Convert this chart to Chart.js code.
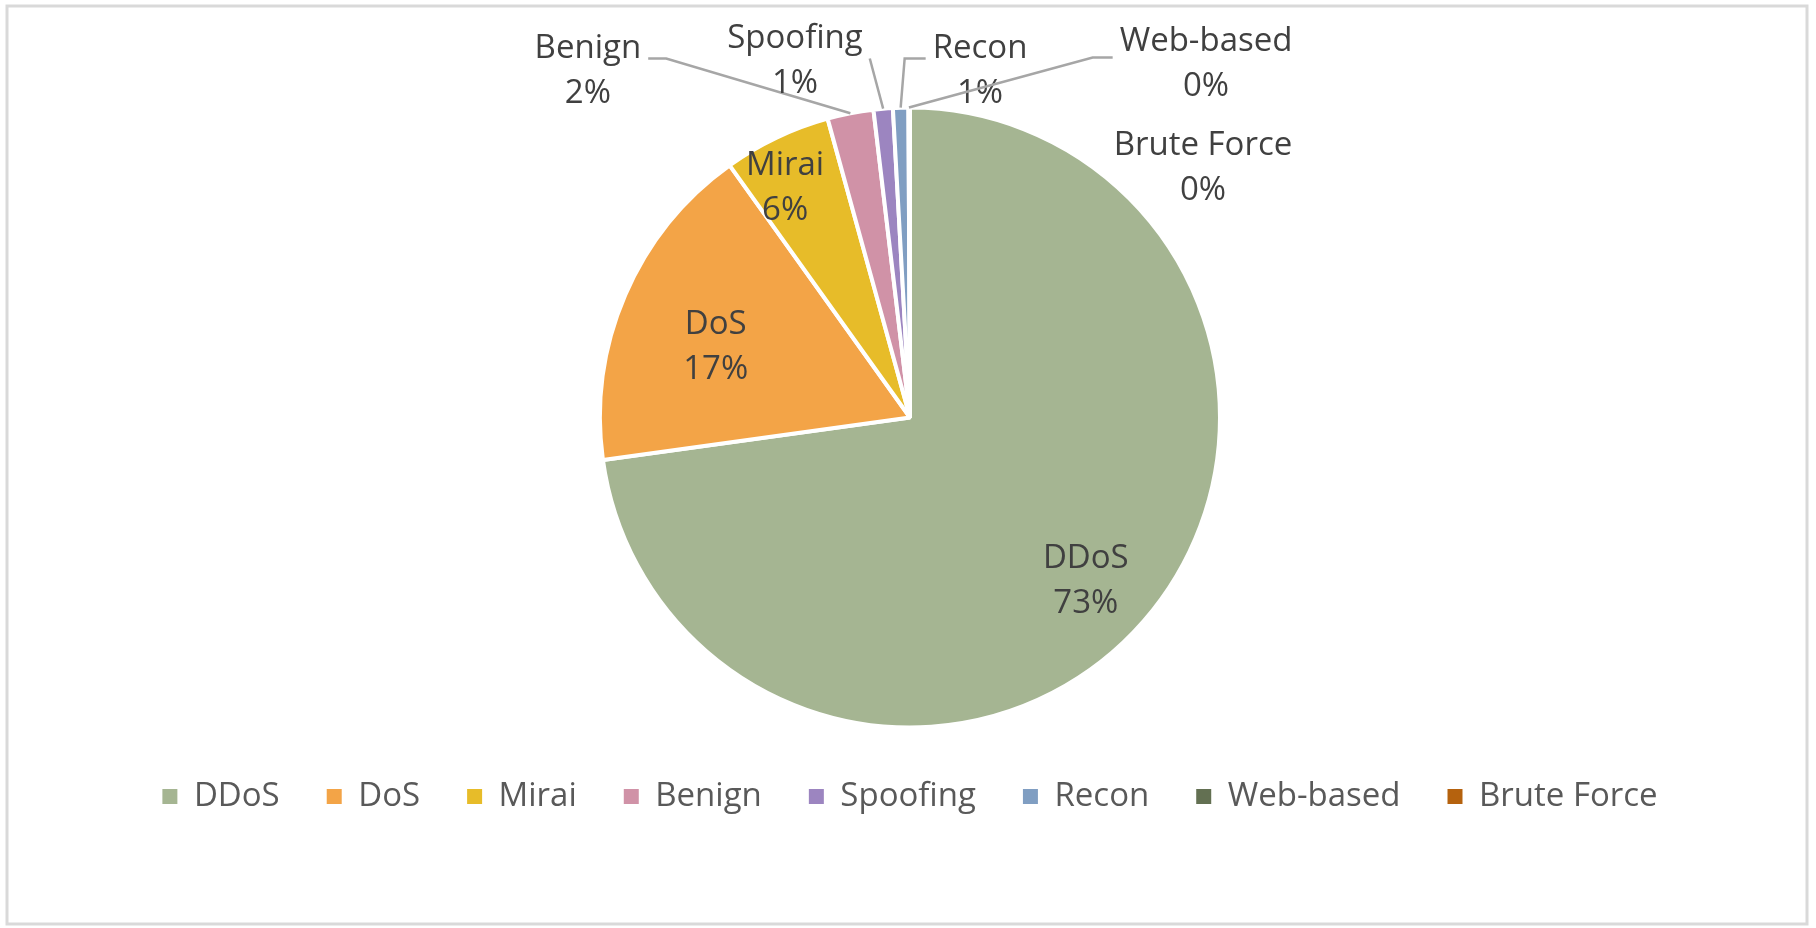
<!DOCTYPE html>
<html>
<head>
<meta charset="utf-8">
<script src="https://cdn.jsdelivr.net/npm/chart.js@4.4.1/dist/chart.umd.min.js"></script>
<style>
html,body{margin:0;padding:0;background:#fff}
#wrap{position:absolute;left:0;top:0;width:1816px;height:928px}
</style>
</head>
<body>
<div id="wrap"><canvas id="pie"></canvas></div>
<script>
// DATA
const categories=['DDoS','DoS','Mirai','Benign','Spoofing','Recon','Web-based','Brute Force'];
const shares=[72.8,17.3,5.6,2.4,1.0,0.8,0.05,0.03];
const sliceColors=['#a5b592','#f3a447','#e7bc29','#d092a7','#9c85c0','#809ec2','#637052','#b5620e'];

// label placement: r = inside the slice (fraction of radius along mid angle, da = angle nudge in deg),
// dx/dy = outside, offset from centre in radii, with a leader line
const labelPlace=[
  {r:0.77,da:1.5},
  {r:0.67,da:-2.6},
  {r:0.85,da:-2.8},
  {dx:-1.039,dy:-1.126,elbow:18,ly:-10},
  {dx:-0.371,dy:-1.158,elbow:0,ly:0},
  {dx:0.226,dy:-1.126,elbow:21,ly:-10},
  {dx:0.955,dy:-1.148,elbow:20,ly:-4},
  {dx:0.945,dy:-0.813}
];

const FONT='"Open Sans", "Noto Sans", sans-serif';

// white page + light grey frame
const frame={
  id:'frame',
  beforeDraw(chart){
    const c=chart.ctx;
    c.save();
    c.fillStyle='#fff';c.fillRect(0,0,chart.width,chart.height);
    c.strokeStyle='#d9d9d9';c.lineWidth=3;
    c.strokeRect(7,6,1800,918);
    c.restore();
  }
};

// data labels (category + percent) with leader lines for the thin slices
const pieLabels={
  id:'pieLabels',
  afterDatasetsDraw(chart){
    const c=chart.ctx;
    const meta=chart.getDatasetMeta(0);
    const total=shares.reduce((a,b)=>a+b,0);
    c.save();
    c.font='33px '+FONT;
    c.textAlign='center';
    c.textBaseline='alphabetic';
    meta.data.forEach((arc,i)=>{
      const {x,y,startAngle,endAngle,outerRadius}=arc.getProps(['x','y','startAngle','endAngle','outerRadius'],true);
      const mid=(startAngle+endAngle)/2;
      const p=labelPlace[i];
      const name=categories[i];
      const pct=Math.round(shares[i]/total*100)+'%';
      let cx,cy;
      if(p.r!==undefined){
        const a=mid+(p.da||0)*Math.PI/180;
        cx=x+Math.cos(a)*outerRadius*p.r;
        cy=y+Math.sin(a)*outerRadius*p.r;
      }else{
        cx=x+p.dx*outerRadius;
        cy=y+p.dy*outerRadius;
        if(p.elbow!==undefined){
          const half=Math.max(c.measureText(name).width,c.measureText(pct).width)/2;
          const ex=x+Math.cos(mid)*outerRadius, ey=y+Math.sin(mid)*outerRadius;
          const left=cx<ex;
          const sx=left?cx+half+7:cx-half-7;
          const sy=cy+p.ly;
          c.strokeStyle='#a6a6a6';c.lineWidth=2.5;
          c.beginPath();
          c.moveTo(sx,sy);
          c.lineTo(left?sx+p.elbow:sx-p.elbow,sy);
          c.lineTo(ex,ey);
          c.stroke();
        }
      }
      c.fillStyle='#404040';
      c.fillText(name,cx,cy-10.5);
      c.fillText(pct,cx,cy+34.5);
    });
    c.restore();
  }
};

const ctx=document.getElementById('pie').getContext('2d');
new Chart(ctx,{
  type:'pie',
  data:{labels:categories,datasets:[{data:shares,backgroundColor:sliceColors,borderColor:'#fff',borderWidth:4,hoverOffset:0}]},
  options:{
    responsive:true,maintainAspectRatio:false,animation:false,devicePixelRatio:1,
    radius:310,
    layout:{padding:{top:102,bottom:105,left:4,right:0}},
    plugins:{
      tooltip:{enabled:false},
      legend:{
        position:'bottom',
        labels:{
          color:'#595959',font:{family:FONT,size:33},boxWidth:15,boxHeight:15,padding:47,
          generateLabels(chart){
            return Chart.overrides.pie.plugins.legend.labels.generateLabels(chart)
              .map(l=>({...l,lineWidth:0,strokeStyle:l.fillStyle}));
          }
        }
      }
    }
  },
  plugins:[frame,pieLabels]
});
</script>
</body>
</html>
